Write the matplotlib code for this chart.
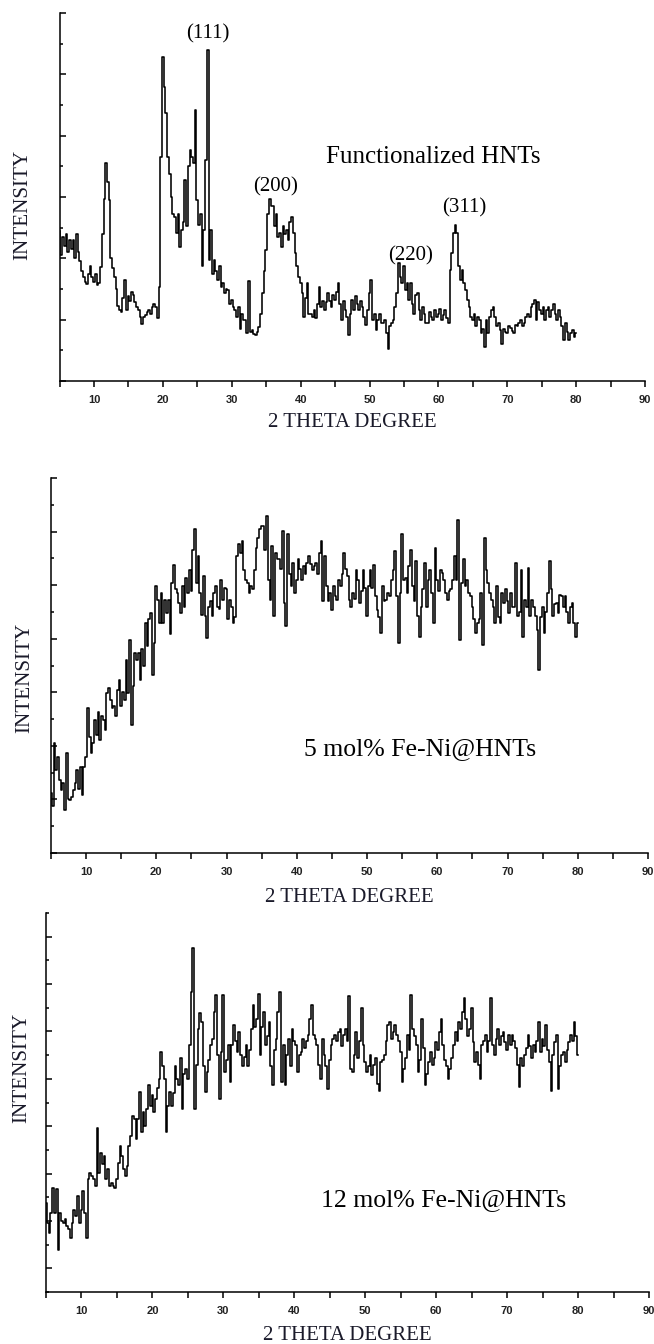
import matplotlib
matplotlib.use('Agg')
import matplotlib.pyplot as plt
import numpy as np
from matplotlib.ticker import MultipleLocator

# XRD patterns, 2-theta from 5 to 80 deg in 0.25 deg steps (arbitrary intensity units)
theta_start = 5.0
theta_step = 0.25

hnt = [
    2.45, 2.05, 2.35, 2.20, 2.40, 2.10, 2.30, 2.15, 2.30, 2.00, 2.40, 2.10, 1.95, 1.80, 1.70, 1.62, 1.58, 1.75, 1.88, 1.70,
    1.62, 1.75, 1.57, 1.60, 1.86, 2.40, 2.97, 3.55, 3.25, 2.95, 2.00, 1.85, 1.70, 1.50, 1.23, 1.15, 1.12, 1.35, 1.65, 1.15,
    1.38, 1.30, 1.45, 1.40, 1.28, 1.20, 1.15, 1.05, 0.93, 1.05, 1.07, 1.12, 1.15, 1.10, 1.20, 1.25, 1.20, 1.02, 1.54, 3.66,
    5.29, 4.80, 4.37, 3.66, 3.38, 3.00, 2.73, 2.68, 2.41, 2.73, 2.19, 2.46, 2.60, 3.28, 2.52, 3.50, 3.77, 3.66, 3.55, 4.42,
    2.95, 2.55, 2.73, 1.87, 2.46, 3.60, 5.40, 1.97, 2.46, 1.75, 1.97, 1.80, 1.65, 1.87, 1.54, 1.60, 1.43, 1.50, 1.48, 1.25,
    1.32, 1.20, 1.16, 1.05, 1.21, 0.85, 1.10, 1.00, 0.99, 0.78, 1.63, 0.80, 0.83, 0.76, 0.75, 0.80, 0.88, 1.10, 1.43, 1.80,
    2.14, 2.73, 2.97, 2.85, 2.85, 2.52, 2.73, 2.35, 2.41, 2.19, 2.52, 2.40, 2.46, 2.30, 2.60, 2.68, 2.41, 2.08, 1.87, 1.70,
    1.59, 1.43, 1.05, 1.35, 1.59, 1.10, 1.10, 1.05, 1.16, 1.02, 1.25, 1.54, 1.21, 1.30, 1.16, 1.28, 1.43, 1.30, 1.20, 1.40,
    1.32, 1.45, 1.59, 1.25, 0.99, 1.30, 1.16, 1.05, 0.75, 1.10, 1.32, 1.15, 1.38, 1.25, 1.16, 1.30, 1.21, 1.05, 0.92, 1.15,
    1.43, 1.65, 0.99, 1.10, 0.83, 1.00, 1.10, 0.95, 0.94, 1.00, 0.78, 0.52, 0.89, 0.95, 0.99, 1.20, 1.43, 1.92, 1.70, 1.59,
    1.87, 1.48, 1.60, 1.32, 1.59, 1.25, 1.10, 1.40, 1.43, 1.15, 0.99, 1.20, 1.10, 0.95, 0.94, 1.12, 1.05, 1.00, 1.16, 1.05,
    1.10, 1.18, 0.99, 1.08, 1.16, 1.02, 0.94, 1.81, 2.08, 2.41, 2.54, 2.41, 1.87, 1.65, 1.81, 1.60, 1.48, 1.32, 1.20, 1.05,
    0.99, 1.10, 0.89, 1.05, 0.99, 0.78, 0.85, 0.56, 0.99, 0.78, 1.05, 1.15, 1.21, 1.05, 0.89, 0.95, 0.83, 0.61, 0.85, 0.80,
    0.78, 0.90, 0.86, 0.82, 0.78, 0.92, 0.89, 0.95, 0.99, 0.90, 0.94, 1.05, 1.10, 1.05, 1.21, 1.25, 1.32, 0.99, 1.28, 1.15,
    1.10, 1.21, 0.99, 1.15, 1.21, 1.05, 1.16, 1.25, 1.10, 0.99, 1.16, 1.05, 0.89, 0.67, 0.94, 0.80, 0.67, 0.78, 0.83, 0.72,
    0.78,
]

fe_ni_5 = [
    1.12, 0.87, 2.05, 1.55, 1.80, 1.37, 1.18, 1.30, 0.80, 1.86, 1.00, 0.99, 1.05, 1.18, 1.30, 1.55, 1.20, 1.61, 1.08, 1.61,
    1.80, 2.70, 2.17, 1.86, 2.05, 2.49, 2.20, 2.64, 2.11, 2.55, 2.49, 2.30, 2.98, 3.08, 2.86, 2.70, 2.74, 2.55, 3.05, 3.23,
    2.74, 3.00, 2.86, 3.61, 2.98, 3.98, 2.39, 3.11, 3.73, 3.61, 3.73, 3.23, 3.80, 3.50, 4.29, 3.86, 4.36, 4.48, 3.33, 3.92,
    4.98, 4.73, 4.29, 4.85, 4.29, 4.73, 4.48, 4.73, 4.08, 5.04, 5.38, 4.92, 4.85, 4.67, 4.48, 4.98, 4.60, 5.13, 4.85, 5.29,
    4.90, 5.66, 6.04, 5.04, 5.54, 4.85, 4.45, 5.17, 4.42, 4.01, 4.60, 4.70, 4.42, 4.85, 4.98, 4.60, 4.55, 5.10, 4.73, 4.95,
    4.92, 4.36, 4.73, 4.60, 4.29, 4.40, 5.54, 5.76, 5.60, 5.82, 5.29, 5.10, 5.04, 4.85, 4.98, 4.92, 5.29, 5.70, 5.88, 6.04,
    6.10, 6.10, 5.66, 6.29, 5.10, 4.73, 5.73, 4.42, 5.60, 5.48, 5.48, 5.30, 6.01, 4.67, 4.23, 5.95, 5.20, 4.98, 5.42, 4.85,
    5.10, 5.48, 5.30, 5.10, 5.35, 5.20, 5.42, 5.54, 5.40, 5.29, 5.35, 5.42, 5.20, 5.60, 5.82, 4.70, 5.55, 4.98, 4.70, 4.85,
    4.54, 4.98, 4.80, 4.73, 5.10, 4.98, 5.20, 5.60, 5.30, 5.17, 4.73, 4.60, 4.85, 4.75, 5.29, 5.10, 4.67, 4.90, 5.29, 4.95,
    4.42, 4.98, 5.29, 4.95, 5.38, 4.80, 4.54, 4.40, 4.11, 4.98, 4.70, 4.73, 4.85, 4.79, 5.10, 5.29, 5.63, 4.79, 3.92, 4.85,
    5.95, 5.10, 5.13, 4.85, 5.35, 5.66, 4.98, 4.70, 5.45, 4.42, 4.04, 4.60, 4.92, 5.42, 4.60, 5.10, 5.29, 4.85, 4.29, 5.70,
    5.10, 4.90, 5.29, 5.23, 5.10, 4.85, 4.73, 4.90, 4.92, 5.10, 5.54, 5.10, 6.22, 3.98, 5.04, 5.48, 4.98, 5.10, 4.85, 4.79,
    4.60, 4.36, 4.11, 4.30, 4.36, 4.85, 3.89, 5.88, 5.29, 5.04, 4.85, 4.73, 4.60, 4.29, 4.98, 4.40, 4.29, 4.85, 4.67, 4.92,
    4.70, 4.48, 4.85, 4.60, 4.60, 5.42, 4.42, 4.50, 5.29, 4.04, 4.73, 4.60, 5.32, 4.42, 4.73, 4.60, 4.42, 4.17, 3.42, 4.40,
    4.60, 4.11, 4.50, 4.85, 5.45, 4.92, 4.42, 4.65, 4.67, 4.48, 4.82, 4.79, 4.60, 4.79, 4.50, 4.29, 4.60, 4.67, 4.29, 4.04,
    4.30,
]

fe_ni_12 = [
    1.88, 1.46, 1.25, 1.67, 2.20, 1.67, 2.17, 0.89, 1.67, 1.50, 1.46, 1.55, 1.40, 1.32, 1.14, 1.46, 1.74, 1.60, 2.02, 1.46,
    1.74, 2.13, 1.67, 1.14, 2.38, 2.52, 2.45, 2.38, 2.24, 3.47, 2.52, 2.94, 2.70, 2.87, 2.38, 2.59, 2.24, 2.31, 2.24, 2.20,
    2.38, 2.73, 3.09, 2.87, 2.59, 2.45, 2.66, 3.09, 3.30, 3.72, 3.65, 3.23, 3.65, 4.22, 3.37, 3.79, 3.51, 3.86, 4.36, 3.93,
    4.15, 3.79, 4.08, 4.30, 4.50, 5.07, 4.78, 4.50, 3.37, 3.93, 4.22, 3.93, 4.20, 4.78, 4.50, 4.36, 4.93, 3.86, 4.60, 4.71,
    4.50, 5.21, 6.34, 7.26, 3.86, 4.80, 5.56, 5.88, 5.70, 4.78, 4.22, 4.64, 4.90, 5.21, 5.35, 5.92, 6.27, 5.00, 4.08, 5.07,
    6.27, 4.64, 4.90, 5.21, 4.43, 5.21, 5.63, 5.30, 5.07, 5.49, 5.00, 4.78, 4.95, 5.21, 4.78, 5.10, 5.56, 6.06, 5.60, 5.77,
    6.30, 5.00, 5.60, 5.92, 5.21, 5.40, 5.70, 4.78, 4.36, 5.10, 5.35, 5.90, 6.34, 4.43, 5.21, 4.36, 5.00, 5.35, 4.78, 5.56,
    5.30, 5.21, 4.64, 5.00, 5.07, 5.35, 5.14, 5.30, 5.42, 5.77, 6.06, 5.42, 5.35, 5.21, 4.80, 4.50, 5.35, 5.00, 4.78, 4.29,
    4.90, 5.21, 5.35, 5.42, 5.30, 5.49, 5.56, 5.20, 5.42, 5.56, 5.30, 6.24, 4.71, 4.64, 5.00, 5.49, 4.93, 5.30, 5.99, 5.21,
    4.85, 4.64, 4.78, 5.00, 4.57, 4.80, 4.93, 4.40, 4.25, 4.85, 4.90, 5.00, 5.30, 5.63, 5.70, 5.35, 5.49, 5.63, 5.42, 5.30,
    5.07, 4.43, 4.70, 4.93, 5.42, 5.10, 6.27, 5.56, 5.40, 5.21, 4.64, 4.90, 5.77, 5.14, 4.36, 4.60, 4.85, 5.07, 4.80, 4.93,
    5.28, 5.10, 5.49, 5.77, 5.21, 4.90, 4.78, 4.50, 4.70, 4.93, 5.21, 5.49, 5.30, 5.70, 5.56, 5.90, 6.20, 5.77, 5.40, 5.56,
    5.99, 5.28, 4.85, 5.07, 4.80, 4.50, 5.21, 5.30, 5.42, 5.07, 5.30, 6.20, 5.21, 5.00, 5.35, 5.56, 5.21, 5.40, 5.49, 5.28,
    5.10, 5.42, 5.21, 5.42, 5.30, 5.14, 4.80, 4.32, 4.93, 4.78, 5.00, 5.14, 5.42, 5.20, 4.93, 5.21, 5.07, 5.30, 5.70, 5.07,
    5.35, 5.20, 5.63, 5.10, 4.85, 4.25, 5.00, 5.28, 5.42, 4.29, 4.78, 5.00, 5.07, 4.85, 5.10, 5.28, 5.42, 5.30, 5.70, 5.40,
    5.00,
]

peak_names = ['(111)', '(200)', '(220)', '(311)']
peak_pos = [(26.5, 5.66), (36.3, 3.16), (55.9, 2.04), (63.8, 2.82)]

sample_names = ['Functionalized HNTs', '5 mol% Fe-Ni@HNTs', '12 mol% Fe-Ni@HNTs']

W, H = 654, 1344
fig = plt.figure(figsize=(W / 100, H / 100), dpi=100)
fig.patch.set_facecolor('white')

serif = ['Liberation Serif', 'DejaVu Serif']


def px_axes(x0, x1, ytop, ybot):
    return fig.add_axes([x0 / W, 1 - ybot / H, (x1 - x0) / W, (ybot - ytop) / H])


def style(ax, ymax, yoff):
    ax.set_xlim(5, 90)
    ax.set_ylim(0, ymax)
    for s in ['top', 'right']:
        ax.spines[s].set_visible(False)
    for s in ['left', 'bottom']:
        ax.spines[s].set_linewidth(1.1)
    ax.xaxis.set_major_locator(MultipleLocator(10))
    ax.xaxis.set_minor_locator(MultipleLocator(5))
    ax.yaxis.set_major_locator(MultipleLocator(1, offset=yoff))
    ax.yaxis.set_minor_locator(MultipleLocator(0.5))
    ax.tick_params(axis='x', which='both', direction='out', length=4, width=1.1,
                   pad=6, labelsize=8)
    ax.tick_params(axis='y', which='major', direction='in', length=4, width=1.1)
    ax.tick_params(axis='y', which='minor', direction='in', length=2.3, width=1.1)
    ax.tick_params(axis='y', labelleft=False)
    ax.set_xticks([10, 20, 30, 40, 50, 60, 70, 80, 90])
    ax.set_xticklabels(['10', '20', '30', '40', '50', '60', '70', '80', '90'],
                       fontweight='bold', family='Liberation Sans', color='#222222')


def trace(ax, vals):
    x = theta_start + theta_step * np.arange(len(vals))
    ax.plot(x, vals, color='black', lw=1.15, drawstyle='steps-mid')


# panel layout in pixels: (left, right, top, bottom)
ax1 = px_axes(59.6, 645, 13, 381)
ax2 = px_axes(51, 648, 478, 853)
ax3 = px_axes(46, 649, 913, 1292)

style(ax1, 6, 0)
style(ax2, 7, 0)
style(ax3, 8, 0.5)

trace(ax1, hnt)
trace(ax2, fe_ni_5)
trace(ax3, fe_ni_12)

for name, (px, py) in zip(peak_names, peak_pos):
    ax1.text(px, py, name, family=serif, fontsize=15, ha='center', va='center')

ax1.text(0.639, 0.609, sample_names[0], transform=ax1.transAxes, family=serif,
         fontsize=18, ha='center', va='center')
ax2.text(0.619, 0.277, sample_names[1], transform=ax2.transAxes, family=serif,
         fontsize=18.5, ha='center', va='center')
ax3.text(0.660, 0.243, sample_names[2], transform=ax3.transAxes, family=serif,
         fontsize=18.5, ha='center', va='center')

# axis titles placed in pixel coordinates
for (xc, yc) in [(352, 423), (349.5, 898), (347.5, 1336)]:
    fig.text(xc / W, 1 - yc / H, '2 THETA DEGREE', family=serif, fontsize=15,
             ha='center', va='center', color='#1a1a2a')
for (xc, yc) in [(23, 205), (25, 678), (22, 1068)]:
    fig.text(xc / W, 1 - yc / H, 'INTENSITY', family=serif, fontsize=15.2,
             rotation=90, ha='center', va='center', color='#1a1a2a')

fig.savefig('out.png', dpi=100, facecolor='white')
